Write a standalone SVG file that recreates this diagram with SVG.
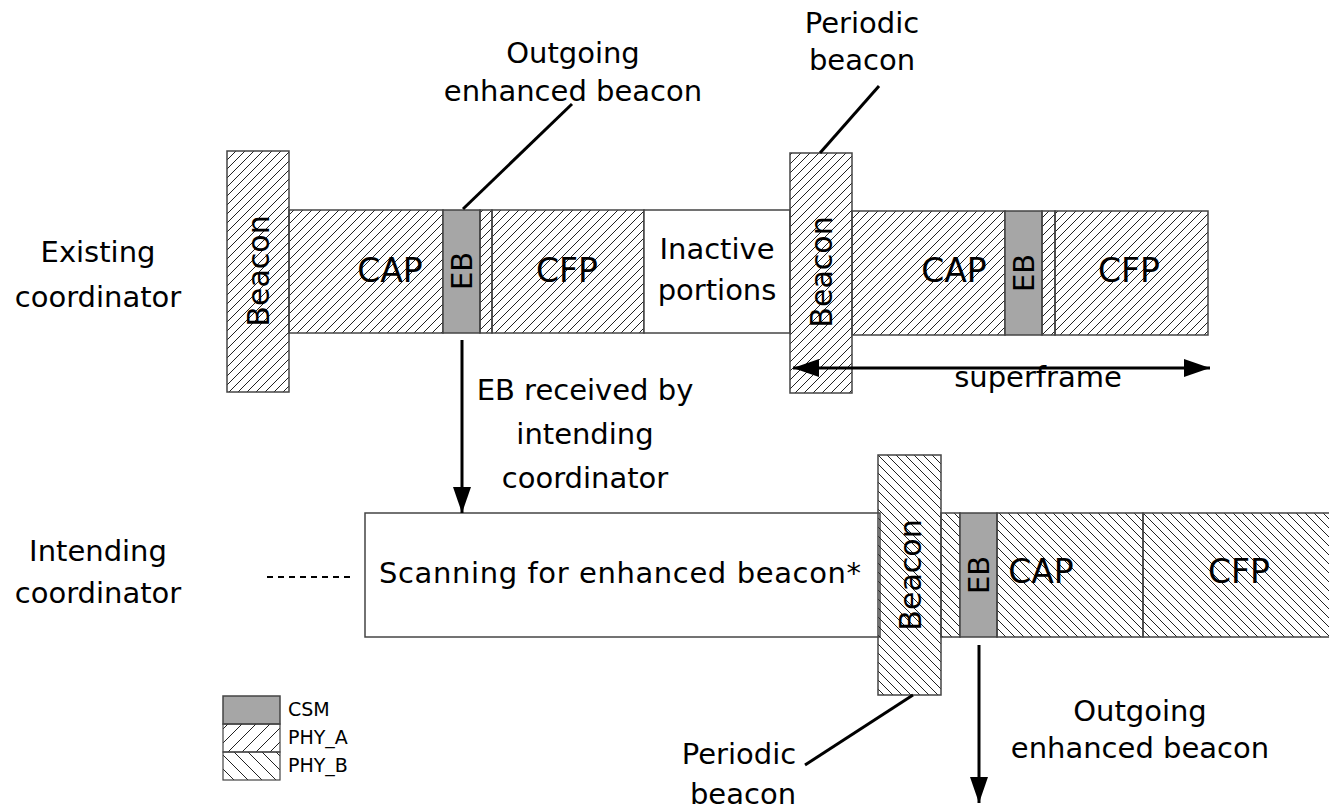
<svg xmlns="http://www.w3.org/2000/svg" width="1329" height="810" viewBox="0 0 1329 810">
<defs>
<pattern id="phyA" patternUnits="userSpaceOnUse" width="9" height="9">
<path d="M0,9 L9,0 M-2,2 L2,-2 M7,11 L11,7" stroke="#222" stroke-width="1"/>
</pattern>
<pattern id="phyB" patternUnits="userSpaceOnUse" width="9" height="9">
<path d="M0,0 L9,9 M-2,7 L2,11 M7,-2 L11,2" stroke="#222" stroke-width="1"/>
</pattern>
<pattern id="legA" patternUnits="userSpaceOnUse" width="14" height="14">
<path d="M0,14 L14,0 M-3,3 L3,-3 M11,17 L17,11" stroke="#222" stroke-width="1"/>
</pattern>
<pattern id="legB" patternUnits="userSpaceOnUse" width="14" height="14">
<path d="M0,0 L14,14 M-3,11 L3,17 M11,-3 L17,3" stroke="#222" stroke-width="1"/>
</pattern>
<marker id="ahb" viewBox="0 0 26 18" refX="26" refY="9" markerWidth="26" markerHeight="18" markerUnits="userSpaceOnUse" orient="auto-start-reverse">
<path d="M0,0 L26,9 L0,18 Z" fill="#000"/>
</marker>
</defs>
<style>
.a{fill:url(#phyA);stroke:#444;stroke-width:1.5}
.b{fill:url(#phyB);stroke:#444;stroke-width:1.5}
.g{fill:#a6a6a6;stroke:#444;stroke-width:1.5}
.w{fill:#fff;stroke:#444;stroke-width:1.5}
.t{font-family:"DejaVu Sans","Liberation Sans",sans-serif;font-size:29px;fill:#000;text-anchor:middle}
.big{font-size:33px}
.bc{font-size:30px}
.lg{font-family:"DejaVu Sans","Liberation Sans",sans-serif;font-size:19px;fill:#000}
.ln{stroke:#000;stroke-width:3;fill:none}
</style>
<rect width="1329" height="810" fill="#fff"/>

<g id="labels">
<text class="t" x="98" y="262">Existing</text>
<text class="t" x="98" y="307">coordinator</text>
<text class="t" x="98" y="561">Intending</text>
<text class="t" x="98" y="603">coordinator</text>
<text class="t" x="573" y="63">Outgoing</text>
<text class="t" x="573" y="101">enhanced beacon</text>
<text class="t" x="862" y="33">Periodic</text>
<text class="t" x="862" y="70">beacon</text>
<text class="t" x="585" y="400">EB received by</text>
<text class="t" x="585" y="444">intending</text>
<text class="t" x="585" y="488">coordinator</text>
<text class="t" x="1140" y="721">Outgoing</text>
<text class="t" x="1140" y="758">enhanced beacon</text>
<text class="t" x="739" y="764">Periodic</text>
<text class="t" x="743" y="804">beacon</text>
<text class="t" x="1038" y="387">superframe</text>
</g>

<g id="existing-top">
<rect class="a" x="289" y="210" width="154" height="123"/>
<rect class="g" x="443" y="210" width="37" height="123"/>
<rect class="a" x="480" y="210" width="12" height="123"/>
<rect class="a" x="492" y="210" width="152" height="123"/>
<rect class="w" x="644" y="210" width="146" height="123"/>
<rect class="a" x="227" y="151" width="62" height="241"/>
<text class="t big" x="390" y="282">CAP</text>
<text class="t" transform="translate(471.5,271) rotate(-90)">EB</text>
<text class="t big" x="567" y="282">CFP</text>
<text class="t" x="717" y="259">Inactive</text>
<text class="t" x="717" y="300">portions</text>
<text class="t bc" transform="translate(269,271) rotate(-90)">Beacon</text>
</g>

<g id="existing-second">
<rect class="a" x="852" y="211" width="153" height="124"/>
<rect class="g" x="1005" y="211" width="37" height="124"/>
<rect class="a" x="1042" y="211" width="13" height="124"/>
<rect class="a" x="1055" y="211" width="153" height="124"/>
<rect class="a" x="790" y="153" width="62" height="240"/>
<text class="t big" x="954" y="282">CAP</text>
<text class="t" transform="translate(1034,273) rotate(-90)">EB</text>
<text class="t big" x="1129" y="282">CFP</text>
<text class="t bc" transform="translate(832,272) rotate(-90)">Beacon</text>
</g>

<g id="intending">
<rect class="w" x="365" y="513" width="515" height="124"/>
<rect class="b" x="941" y="513" width="19" height="124"/>
<rect class="g" x="960" y="513" width="37" height="124"/>
<rect class="b" x="997" y="513" width="146" height="124"/>
<rect class="b" x="1143" y="513" width="190" height="124"/>
<rect class="b" x="878" y="455" width="63" height="240"/>
<text class="t" x="620" y="583" textLength="482" lengthAdjust="spacing">Scanning for enhanced beacon*</text>
<text class="t" transform="translate(989,575) rotate(-90)">EB</text>
<text class="t big" x="1041" y="583">CAP</text>
<text class="t big" x="1239" y="583">CFP</text>
<text class="t bc" transform="translate(921,575) rotate(-90)">Beacon</text>
</g>

<g id="legend">
<rect class="g" x="223" y="696" width="57" height="28" stroke-width="1.2"/>
<rect x="223" y="724" width="57" height="28" fill="url(#legA)" stroke="#444" stroke-width="1.2"/>
<rect x="223" y="752" width="57" height="28" fill="url(#legB)" stroke="#444" stroke-width="1.2"/>
<text class="lg" x="288" y="716">CSM</text>
<text class="lg" x="288" y="744">PHY_A</text>
<text class="lg" x="288" y="772">PHY_B</text>
</g>

<g id="connectors">
<line class="ln" x1="463" y1="209" x2="572" y2="104"/>
<line class="ln" x1="820" y1="153" x2="879" y2="86"/>
<line class="ln" x1="913" y1="695" x2="805" y2="765"/>
<line class="ln" x1="462" y1="340" x2="462" y2="513" marker-end="url(#ahb)"/>
<line class="ln" x1="979" y1="645" x2="979" y2="803" marker-end="url(#ahb)"/>
<line class="ln" x1="793" y1="368" x2="1210" y2="368" marker-start="url(#ahb)" marker-end="url(#ahb)"/>
<line x1="267" y1="577" x2="350" y2="577" stroke="#000" stroke-width="2" stroke-dasharray="6,5"/>
</g>
</svg>
